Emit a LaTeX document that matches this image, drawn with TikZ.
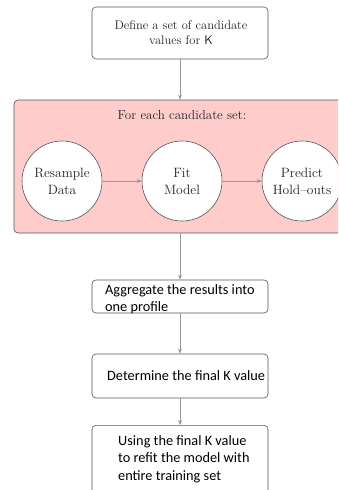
\documentclass[tikz,border=0pt]{standalone}
\usepackage{fontspec}
\newfontfamily\carlito{Carlito}
\usetikzlibrary{arrows.meta}
\definecolor{pinkfill}{HTML}{FFCCCC}
\definecolor{edgegray}{HTML}{555555}
\definecolor{arrowgray}{HTML}{999999}
\definecolor{textgray}{HTML}{222228}
\begin{document}
\begin{tikzpicture}[x=1pt,y=-1pt,
  flowbox/.style={draw=edgegray, line width=0.6pt, rounded corners=4pt, fill=white,
    minimum width=176pt, inner sep=0pt},
  lmtext/.style={font=\fontsize{12.5}{15}\selectfont, text=textgray, align=center, inner sep=0pt},
  cltext/.style={font=\carlito\fontsize{14.3}{16.5}\selectfont, text=black, align=left,
    inner sep=0pt, anchor=north west},
  stage/.style={circle, draw=edgegray, line width=0.6pt, fill=white, minimum size=80pt,
    inner sep=0pt, text=textgray, align=center, font=\fontsize{13.5}{17}\selectfont},
  flow/.style={draw=arrowgray, line width=0.7pt, -{Stealth[length=5pt,width=4pt]}}]
\clip (0,0) rectangle (338,490);

% outer loop panel
\node[draw=edgegray, line width=0.6pt, rounded corners=4pt, fill=pinkfill,
  minimum width=332pt, minimum height=133pt, inner sep=0pt] (loop) at (180,166.5) {};
\node[lmtext, font=\fontsize{13}{16}\selectfont] (looptitle) at (182,115) {For each candidate set:};

% steps inside the loop
\node[stage] (resample) at (62,181) {Resample\\Data};
\node[stage] (fit) at (182,181) {Fit\\Model};
\node[stage] (predict) at (302,181) {Predict\\Hold--outs};

% flow boxes
\node[flowbox, minimum height=52pt] (define) at (180,33) {};
\node[lmtext] (definetext) at (181,33) {Define a set of candidate\\values for \textsf{K}};
\node[flowbox, minimum height=33pt] (aggregate) at (180,296.5) {};
\node[cltext] (aggregatetext) at (105,284.5) {Aggregate the results into\\one profile};
\node[flowbox, minimum height=44pt] (determine) at (180,376) {};
\node[cltext, anchor=west] (determinetext) at (107,376) {Determine the final K value};
\node[flowbox, minimum height=80pt, anchor=north] (refit) at (180,425) {};
\node[cltext, font=\carlito\fontsize{14.3}{17.5}\selectfont] (refittext) at (118,435)
  {Using the final K value\\to refit the model with\\entire training set};

% connectors
\draw[flow] (define) -- (loop);
\draw[flow] (resample) -- (fit);
\draw[flow] (fit) -- (predict);
\draw[flow] (loop) -- (aggregate);
\draw[flow] (aggregate) -- (determine);
\draw[flow] (determine) -- (refit);
\end{tikzpicture}
\end{document}
